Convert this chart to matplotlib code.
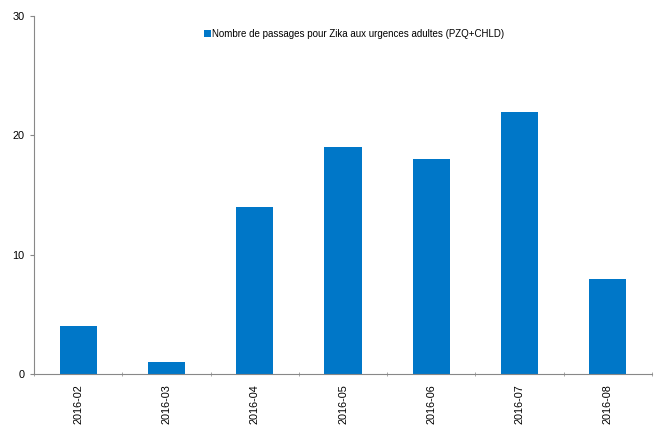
import matplotlib
matplotlib.use("Agg")
import matplotlib.pyplot as plt
import numpy as np

months = ["2016-02", "2016-03", "2016-04", "2016-05", "2016-06", "2016-07", "2016-08"]
passages = [4, 1, 14, 19, 18, 22, 8]
label = "Nombre de passages pour Zika aux urgences adultes (PZQ+CHLD)"

plt.rcParams["font.family"] = ["Liberation Sans", "DejaVu Sans"]

fig = plt.figure(figsize=(6.54, 4.26), dpi=100)
ax = fig.add_axes([0.052, 0.122, 0.945, 0.840])

x = np.arange(len(months))
ax.bar(x, passages, width=0.42, color="#0077C8", label=label)

ax.set_xlim(-0.5, len(months) - 0.5)
ax.set_ylim(0, 30)
ax.set_yticks([0, 10, 20, 30])

# category labels centred, tick marks on the boundaries
ax.set_xticks(x)
ax.set_xticklabels(months, rotation=90, fontsize=7.8)
ax.tick_params(axis="x", length=0, pad=7)
ax.set_xticks(np.arange(-0.5, len(months)), minor=True)
ax.tick_params(axis="x", which="minor", length=3, color="#999999", direction="inout")
ax.tick_params(axis="y", labelsize=7.8, length=3, color="#888888", pad=4)

for side in ["top", "right"]:
    ax.spines[side].set_visible(False)
for side in ["left", "bottom"]:
    ax.spines[side].set_color("#888888")
    ax.spines[side].set_linewidth(0.8)

ax.legend(loc="upper center", bbox_to_anchor=(0.518, 0.99), frameon=False,
          fontsize=7, handlelength=0.7, handleheight=0.7, handletextpad=0.1)

fig.savefig("out.png", dpi=100)
